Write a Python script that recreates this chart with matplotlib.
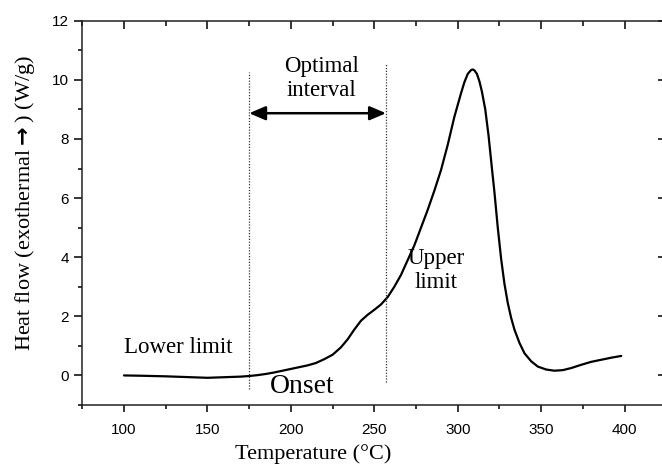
import matplotlib
matplotlib.use("Agg")
import matplotlib.pyplot as plt
from matplotlib.ticker import MultipleLocator

# Data
temperature = [100, 110, 125, 140, 150, 160, 170, 175, 180, 185, 190, 195, 200, 205,
               210, 215, 220, 225, 230, 234, 238, 242, 246, 250, 254, 258, 262, 266,
               270, 274, 278, 282, 286, 290, 294, 298, 302, 304, 306, 308, 309, 310,
               311.5, 313, 314.5, 316.5, 318.5, 320.5, 322, 324, 326, 328, 330, 332,
               334, 337, 340, 344, 348, 353, 358, 363, 368, 374, 380, 386, 392, 398]
heat_flow = [0.0, -0.01, -0.03, -0.06, -0.08, -0.06, -0.04, -0.02, 0.01, 0.05, 0.10,
             0.16, 0.22, 0.28, 0.34, 0.42, 0.55, 0.70, 0.95, 1.22, 1.55, 1.85, 2.05,
             2.22, 2.40, 2.65, 3.00, 3.40, 3.90, 4.40, 5.00, 5.60, 6.25, 6.95, 7.80,
             8.75, 9.55, 9.92, 10.20, 10.33, 10.35, 10.32, 10.20, 9.95, 9.60, 9.00,
             8.10, 7.00, 6.20, 5.00, 3.95, 3.10, 2.45, 1.95, 1.55, 1.10, 0.75, 0.48,
             0.30, 0.20, 0.16, 0.18, 0.25, 0.36, 0.46, 0.53, 0.60, 0.66]

lower_limit = 175
upper_limit = 257
x_ticks = [100, 150, 200, 250, 300, 350, 400]
y_ticks = [0, 2, 4, 6, 8, 10, 12]

serif = ['Liberation Serif', 'DejaVu Serif']
plt.rcParams['font.family'] = ['Liberation Sans', 'DejaVu Sans']
plt.rcParams['mathtext.fontset'] = 'dejavusans'

fig = plt.figure(figsize=(6.62, 4.66), dpi=100)
ax = fig.add_axes([0.1243, 0.1309, 0.8822, 0.8247])

ax.plot(temperature, heat_flow, color='black', lw=1.6, solid_capstyle='round',
        solid_joinstyle='round')

ax.plot([lower_limit, lower_limit], [-0.47, 10.27], color='#333333', lw=0.9,
        linestyle=(0, (1, 1.3)))
ax.plot([upper_limit, upper_limit], [-0.22, 10.56], color='#333333', lw=0.9,
        linestyle=(0, (1, 1.3)))

ax.annotate('', xy=(lower_limit, 8.87), xytext=(upper_limit, 8.87),
            arrowprops=dict(arrowstyle='<|-|>,head_length=0.7,head_width=0.3',
                            color='black', lw=1.8, shrinkA=0, shrinkB=0,
                            mutation_scale=14))

ax.text(218.5, 10.05, 'Optimal\ninterval', family=serif, fontsize=16.5,
        ha='center', va='center', linespacing=1.15)
ax.text(287, 3.55, 'Upper\nlimit', family=serif, fontsize=16.5,
        ha='center', va='center', linespacing=1.15)
ax.text(100, 0.77, 'Lower limit', family=serif, fontsize=16.5,
        ha='left', va='baseline')
ax.text(187.5, -0.59, 'Onset', family=serif, fontsize=20,
        ha='left', va='baseline')

ax.set_xlim(75, 425)
ax.set_ylim(-1, 12)
ax.set_xticks(x_ticks)
ax.set_yticks(y_ticks)
ax.xaxis.set_minor_locator(MultipleLocator(25))
ax.yaxis.set_minor_locator(MultipleLocator(1))

ax.tick_params(axis='x', which='major', direction='out', length=5, width=1.1,
               pad=8, labelsize=11, top=False)
ax.tick_params(axis='x', which='minor', direction='out', length=3, width=1.1, top=False)
ax.tick_params(axis='y', which='major', direction='out', length=5.5, width=1.1,
               pad=4, labelsize=11, right=False)
ax.tick_params(axis='y', which='minor', direction='out', length=3, width=1.1, right=False)

# inward ticks on top and right spines
sec_x = ax.secondary_xaxis('top')
sec_x.set_xticks(x_ticks)
sec_x.xaxis.set_minor_locator(MultipleLocator(25))
sec_x.tick_params(which='major', direction='in', length=5.5, width=1.1, labeltop=False)
sec_x.tick_params(which='minor', direction='in', length=3.5, width=1.1)
sec_x.spines['top'].set_visible(False)
sec_y = ax.secondary_yaxis('right')
sec_y.set_yticks(y_ticks)
sec_y.yaxis.set_minor_locator(MultipleLocator(1))
sec_y.tick_params(which='major', direction='in', length=5.5, width=1.1, labelright=False)
sec_y.tick_params(which='minor', direction='in', length=3, width=1.1)
sec_y.spines['right'].set_visible(False)

for s in ax.spines.values():
    s.set_linewidth(1.1)
    s.set_color('#222222')

ax.set_xlabel('Temperature (°C)', family=serif, fontsize=16)
ax.xaxis.set_label_coords(0.396, -0.102)
ax.set_ylabel(r'Heat flow (exothermal$\mathbf{\rightarrow}$) (W/g)', family=serif,
              fontsize=16)
ax.yaxis.set_label_coords(-0.077, 0.525)

fig.savefig('out.png', dpi=100)
